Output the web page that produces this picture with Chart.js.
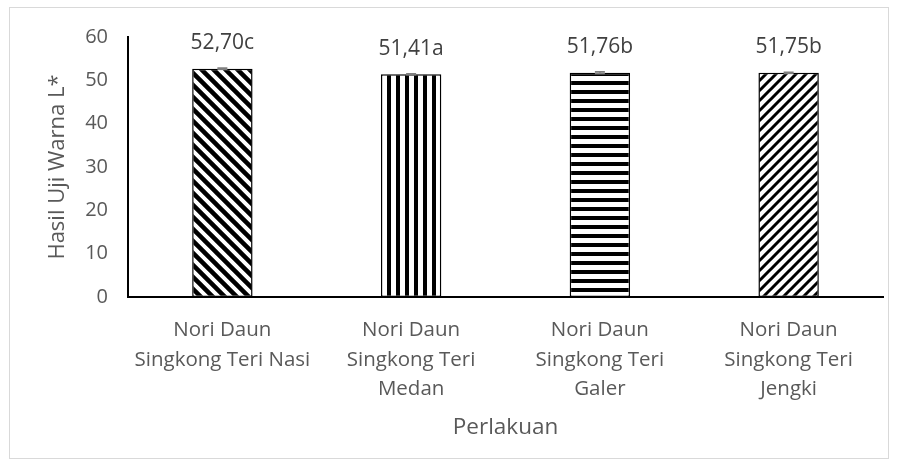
<!DOCTYPE html>
<html>
<head>
<meta charset="utf-8">
<script src="https://cdn.jsdelivr.net/npm/chart.js@4"></script>
<style>
    html, body { margin: 0; padding: 0; background: #fff; }
    #wrap { position: relative; width: 899px; height: 468px; }
    #frame { position: absolute; left: 9px; top: 7px; width: 880px; height: 452px; border: 1px solid #d9d9d9; box-sizing: border-box; }
</style>
</head>
<body>
<div id="wrap">
    <div id="frame"></div>
    <canvas id="barChart" width="899" height="468"></canvas>
</div>
<script>
const categories = [
    ['Nori Daun', 'Singkong Teri Nasi'],
    ['Nori Daun', 'Singkong Teri', 'Medan'],
    ['Nori Daun', 'Singkong Teri', 'Galer'],
    ['Nori Daun', 'Singkong Teri', 'Jengki']
];
const values = [52.70, 51.41, 51.76, 51.75];
const errors = [0.15, 0.12, 0.2, 0.1];
const letters = ['c', 'a', 'b', 'b'];
const yTicks = [0, 10, 20, 30, 40, 50, 60];

const FONT = "'Open Sans', sans-serif";
const textColor = '#595959';

function makePattern(kind) {
    const c = document.createElement('canvas');
    const s = kind === 'diagDown' ? 12 : (kind === 'diagUp' ? 10 : 9);
    c.width = s;
    c.height = s;
    const g = c.getContext('2d');
    g.fillStyle = '#fff';
    g.fillRect(0, 0, s, s);
    g.strokeStyle = '#000';
    g.fillStyle = '#000';
    if (kind === 'vertical') {
        g.fillRect(0, 0, 4, s);
    } else if (kind === 'horizontal') {
        g.fillRect(0, 0, s, 4);
    } else {
        g.lineWidth = kind === 'diagDown' ? 4.5 : 3;
        g.beginPath();
        if (kind === 'diagDown') {
            g.moveTo(-s, -s); g.lineTo(2 * s, 2 * s);
            g.moveTo(-s, 0); g.lineTo(s, 2 * s);
            g.moveTo(0, -s); g.lineTo(2 * s, s);
        } else {
            g.moveTo(-s, 2 * s); g.lineTo(2 * s, -s);
            g.moveTo(-s, s); g.lineTo(s, -s);
            g.moveTo(0, 2 * s); g.lineTo(2 * s, 0);
        }
        g.stroke();
    }
    return g.createPattern(c, 'repeat');
}

const ctx = document.getElementById('barChart');
const patterns = ['diagDown', 'vertical', 'horizontal', 'diagUp'].map(makePattern);

// error bars + value labels above each bar
const barExtras = {
    id: 'barExtras',
    afterDatasetsDraw(chart) {
        const g = chart.ctx;
        const meta = chart.getDatasetMeta(0);
        const y = chart.scales.y;
        g.save();
        meta.data.forEach((bar, i) => {
            const top = y.getPixelForValue(values[i] + errors[i]);
            const bottom = y.getPixelForValue(values[i] - errors[i]);
            g.strokeStyle = '#7f7f7f';
            g.lineWidth = 1.5;
            g.beginPath();
            g.moveTo(bar.x, top); g.lineTo(bar.x, bottom);
            g.moveTo(bar.x - 5, top); g.lineTo(bar.x + 5, top);
            g.moveTo(bar.x - 5, bottom); g.lineTo(bar.x + 5, bottom);
            g.stroke();

            g.fillStyle = '#404040';
            g.font = '21px ' + FONT;
            g.textAlign = 'center';
            g.textBaseline = 'alphabetic';
            g.fillText(values[i].toFixed(2).replace('.', ',') + letters[i], bar.x, top - 19);
        });
        g.restore();
    }
};

new Chart(ctx, {
    type: 'bar',
    data: {
        labels: categories,
        datasets: [{
            data: values,
            backgroundColor: patterns,
            borderColor: '#000',
            borderWidth: 1.5,
            borderSkipped: false,
            categoryPercentage: 1,
            barPercentage: 0.32
        }]
    },
    options: {
        responsive: false,
        animation: false,
        events: [],
        layout: {
            padding: { top: 37, left: 22, right: 16, bottom: 20 }
        },
        plugins: {
            legend: { display: false },
            tooltip: { enabled: false }
        },
        scales: {
            x: {
                grid: { display: false, drawTicks: false },
                border: { display: true, color: '#000', width: 2 },
                ticks: {
                    color: textColor,
                    font: { family: FONT, size: 20.5, lineHeight: 1.42 },
                    padding: 19,
                    maxRotation: 0
                },
                title: {
                    display: true,
                    text: 'Perlakuan',
                    color: textColor,
                    font: { family: FONT, size: 22.5 },
                    padding: { top: 10, bottom: 7 }
                },
                afterFit(scale) { scale.height = 151; }
            },
            y: {
                min: 0,
                max: 60,
                afterBuildTicks(scale) { scale.ticks = yTicks.map(v => ({ value: v })); },
                grid: { display: false, drawTicks: false },
                border: { display: true, color: '#000', width: 2 },
                ticks: {
                    color: textColor,
                    font: { family: FONT, size: 20 },
                    padding: 20
                },
                title: {
                    display: true,
                    text: 'Hasil Uji Warna L*',
                    color: textColor,
                    font: { family: FONT, size: 22 },
                    padding: { top: 23, bottom: 0 }
                },
                afterFit(scale) { scale.width = 106; }
            }
        }
    },
    plugins: [barExtras]
});
</script>
</body>
</html>
